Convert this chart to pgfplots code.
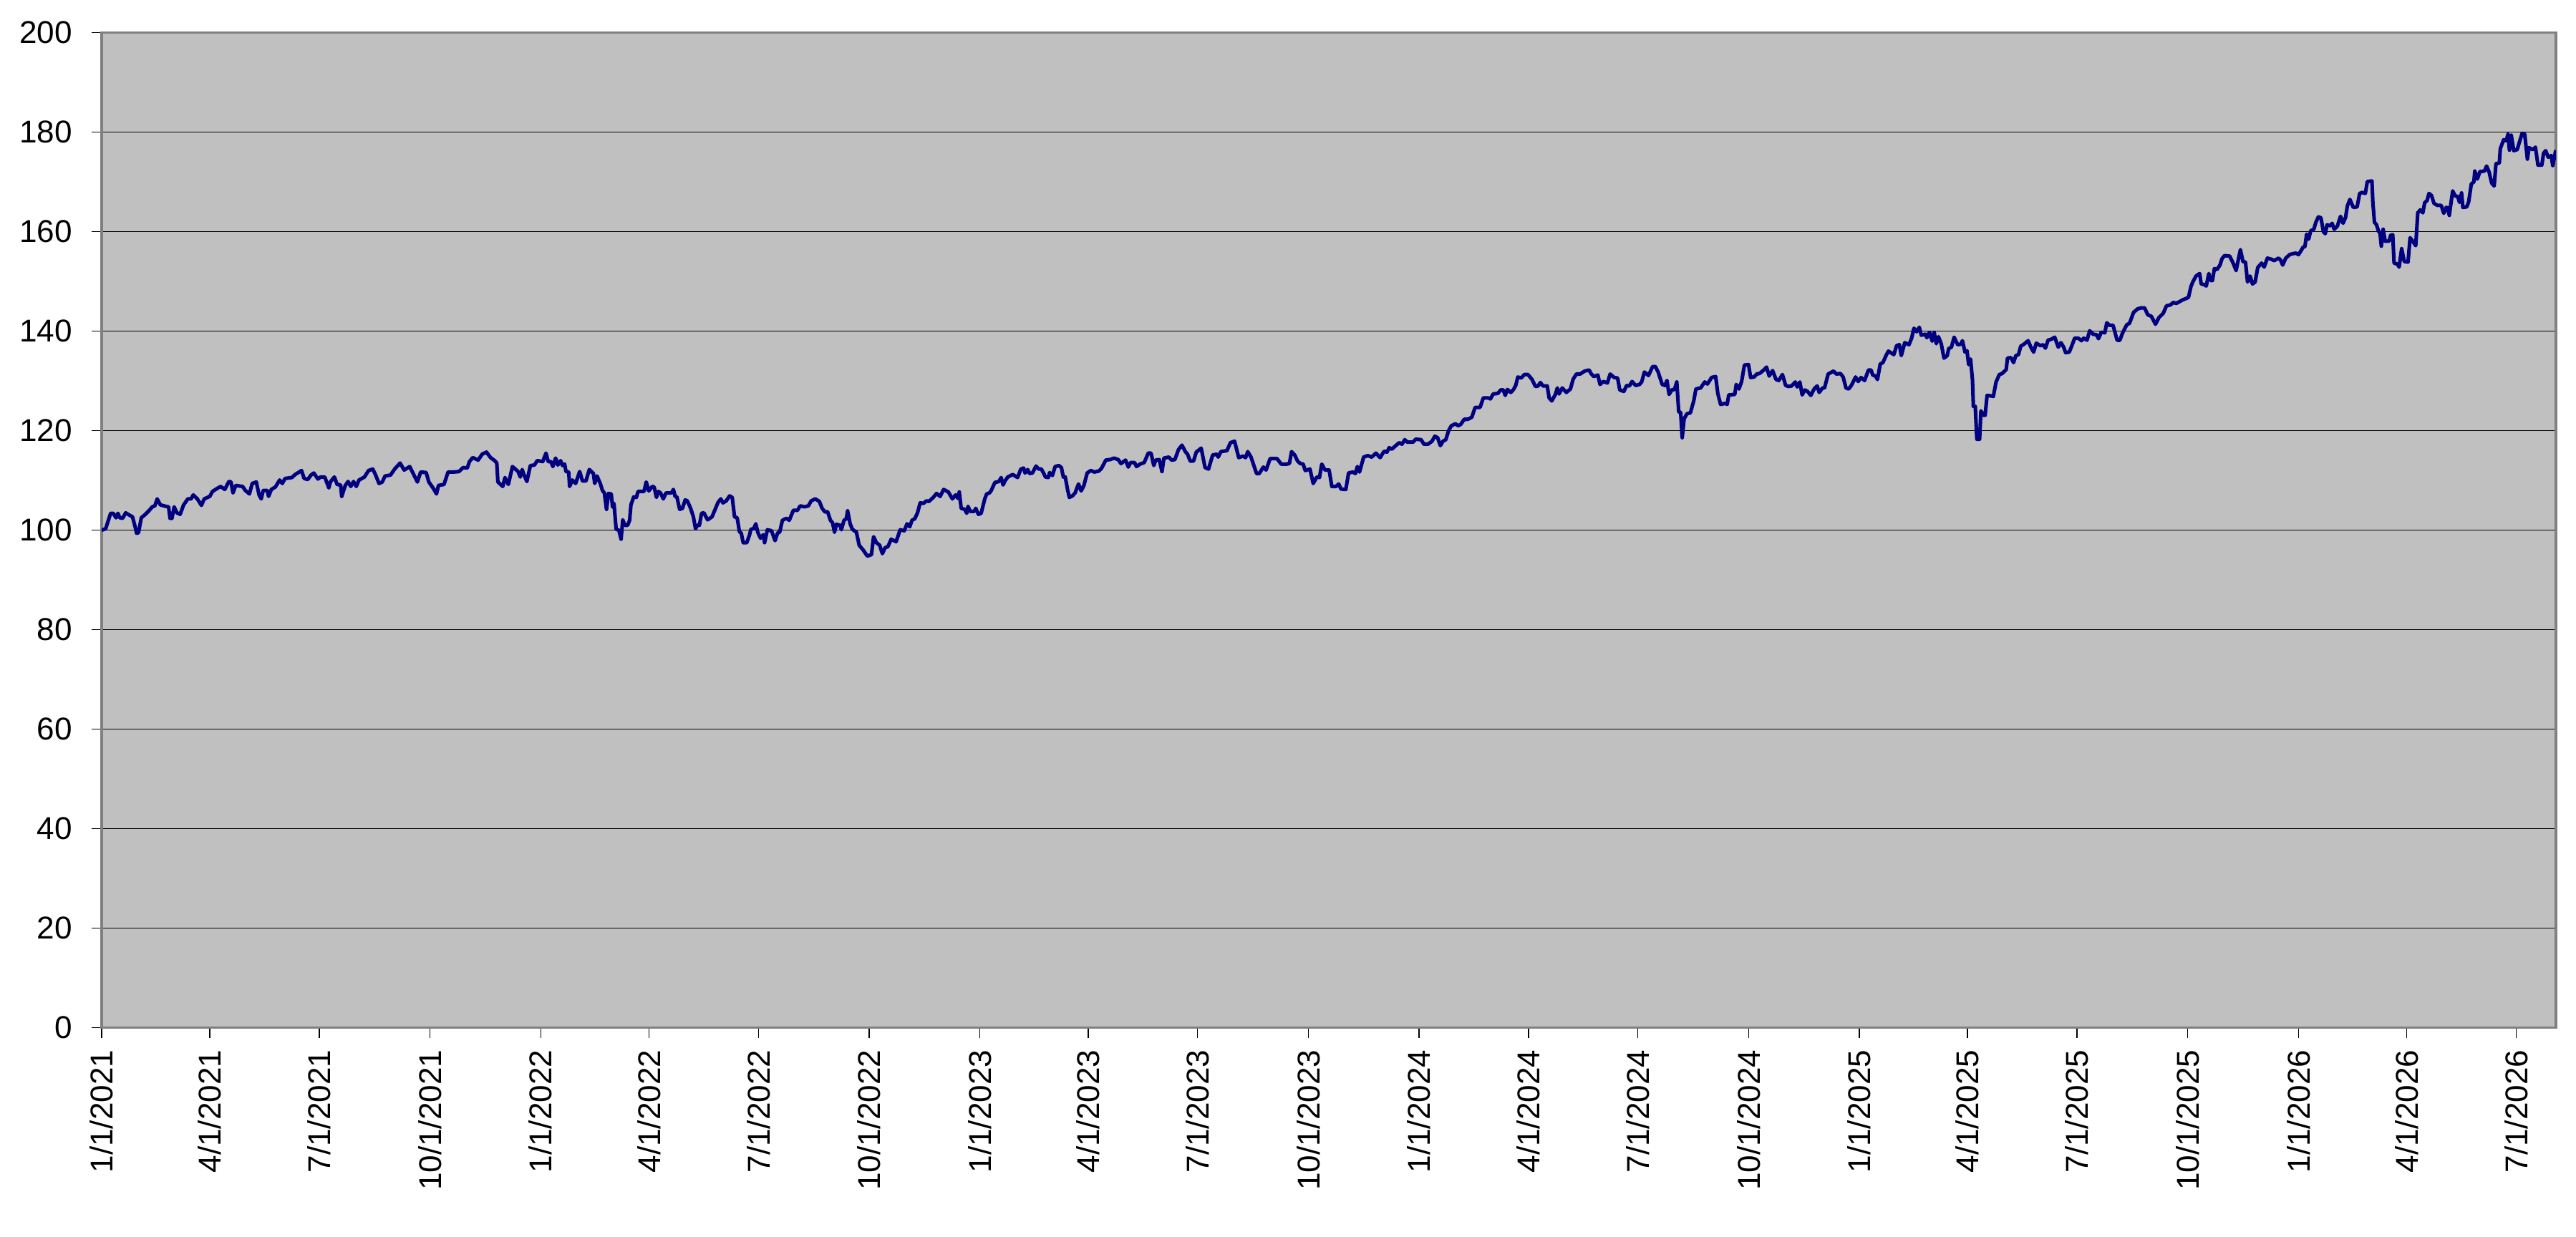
\documentclass[border=0pt]{standalone}
\usepackage{fontspec}
\setmainfont{Liberation Sans}
\usepackage{pgfplots}
\pgfplotsset{compat=1.18}
\definecolor{bg}{HTML}{C0C0C0}
\definecolor{framegray}{HTML}{808080}
\definecolor{series}{HTML}{000080}
\begin{document}
\begin{tikzpicture}
\useasboundingbox (-33.8pt,-69.6pt) rectangle (823.3pt,342.0pt);
\begin{axis}[
  at={(0,0)}, anchor=south west,
  scale only axis, width=816.6pt, height=331.1pt,
  xmin=0, xmax=2040, ymin=0, ymax=200,
  axis background/.style={fill=bg},
  axis line style={draw=framegray, line width=0.8pt},
  ytick={0,20,40,60,80,100,120,140,160,180,200},
  yticklabels={0,20,40,60,80,100,120,140,160,180,200},
  xtick={0,90,181,273,365,455,546,638,730,820,911,1003,1095,1186,1277,1369,1461,1551,1642,1734,1826,1916,2007},
  xticklabels={1/1/2021,4/1/2021,7/1/2021,10/1/2021,1/1/2022,4/1/2022,7/1/2022,10/1/2022,1/1/2023,4/1/2023,7/1/2023,10/1/2023,1/1/2024,4/1/2024,7/1/2024,10/1/2024,1/1/2025,4/1/2025,7/1/2025,10/1/2025,1/1/2026,4/1/2026,7/1/2026},
  tick pos=left, tick align=outside, major tick length=3.4pt,
  tick style={black, line width=0.35pt},
  ymajorgrids, grid style={black, line width=0.35pt},
  xticklabel style={rotate=90, anchor=east, inner xsep=3.8pt, inner ysep=0pt, font=\fontsize{10.5}{12}\selectfont},
  yticklabel style={anchor=east, inner xsep=6.2pt, inner ysep=0pt, font=\fontsize{10.5}{12}\selectfont},
]
\addplot[series, line width=1.2pt, line join=round] table[x=d, y=v] {
d v
0 100.0
3.4 100.3
7.5 103.4
9.7 103.4
12.0 102.5
13.6 103.4
15.2 102.5
17.5 102.4
20.0 103.5
22.7 103.1
25.7 102.7
28.0 100.6
29.1 99.4
30.7 99.5
33.0 102.5
36.4 103.2
39.3 103.9
42.1 104.7
44.3 104.9
46.2 106.3
48.9 105.1
53.4 104.8
55.7 104.7
56.9 102.4
58.5 102.4
60.3 104.7
62.6 103.5
65.3 103.2
68.2 105.1
71.7 106.3
74.4 106.3
76.2 107.1
79.6 106.3
83.0 105.0
85.3 106.3
89.9 106.8
92.2 107.8
96.7 108.5
99.0 108.8
102.4 108.2
105.8 109.8
107.6 109.7
109.2 107.5
111.5 109.0
117.2 108.8
119.5 108.0
122.9 107.3
125.2 109.4
128.6 109.7
130.9 107.1
132.7 106.3
134.3 108.0
137.7 108.0
138.8 106.8
141.1 108.2
144.5 108.7
148.0 110.1
150.2 109.4
152.5 110.4
158.2 110.6
160.9 111.2
166.2 112.0
168.4 110.4
171.4 110.2
174.1 111.1
176.4 111.5
179.8 110.3
182.1 110.7
185.5 110.7
188.9 108.5
190.1 109.7
193.5 110.7
195.8 109.2
198.7 109.1
199.6 106.8
202.6 109.0
204.9 109.8
207.1 108.8
209.4 109.8
211.7 108.8
214.0 110.1
218.5 110.7
221.9 112.0
225.4 112.3
227.6 111.2
230.6 109.4
233.3 109.7
235.6 110.9
240.2 111.1
243.6 112.3
248.1 113.5
251.5 112.1
256.1 112.8
258.4 111.7
262.5 109.7
265.2 111.7
269.8 111.6
272.0 109.7
275.5 108.5
278.4 107.3
280.0 109.0
284.6 109.2
288.0 111.7
292.5 111.7
297.1 111.8
300.5 112.6
303.9 112.5
305.8 113.8
308.5 114.6
313.0 114.1
316.4 115.3
319.9 115.7
323.3 114.6
326.7 114.0
328.5 113.5
329.4 109.7
333.5 108.8
335.3 110.6
338.1 109.2
341.5 112.8
346.2 111.8
348.0 110.7
349.6 112.2
351.2 111.1
353.5 109.8
356.4 113.0
359.8 113.1
362.1 114.0
366.7 113.8
369.4 115.5
371.2 113.8
373.5 113.8
375.1 112.8
377.4 114.5
379.2 113.1
381.5 114.0
383.1 113.0
384.9 113.3
386.0 111.8
388.3 111.7
389.0 108.8
391.3 110.1
394.0 109.4
397.4 111.8
399.7 109.9
402.6 109.9
405.4 112.2
408.8 111.4
409.9 109.4
411.8 110.9
414.5 109.4
416.3 108.0
417.9 107.5
419.7 104.2
421.3 107.4
423.6 107.3
424.7 104.7
425.9 105.4
427.7 100.2
430.0 100.0
431.8 98.2
433.2 102.1
435.0 101.0
437.3 101.0
438.9 102.0
440.0 105.1
442.3 106.7
444.5 106.6
445.9 107.8
450.9 107.8
452.7 109.7
454.8 107.9
457.7 108.8
459.3 108.7
461.2 106.6
462.8 107.8
464.6 107.5
466.9 106.3
469.1 107.5
473.7 107.5
475.3 108.2
476.7 106.8
478.2 106.7
480.5 104.2
482.8 104.4
485.1 106.1
486.9 105.9
489.6 104.4
491.9 102.7
493.7 100.3
495.3 101.0
496.9 101.0
498.7 103.4
500.6 103.5
503.7 102.1
507.4 102.7
512.4 105.6
514.7 106.3
516.5 105.5
519.2 105.9
522.0 106.9
524.2 106.6
526.1 102.7
528.3 102.5
530.2 99.7
531.7 99.4
533.3 97.5
536.3 97.5
538.6 99.1
539.7 100.2
542.0 100.3
543.8 101.3
545.4 99.6
547.7 98.4
550.0 99.1
551.1 97.5
553.4 100.1
556.8 99.9
559.8 97.9
562.0 99.5
563.6 99.6
565.9 102.0
569.3 102.4
571.6 102.0
575.0 104.0
578.4 104.0
580.7 104.9
584.1 104.7
587.5 104.9
589.8 105.9
593.2 106.3
596.6 105.8
598.9 104.4
601.2 103.7
603.5 103.7
605.8 102.0
607.6 101.5
609.2 99.6
610.8 101.2
613.7 101.0
614.9 100.1
617.1 102.0
619.0 102.3
620.1 103.9
622.2 101.3
624.0 100.2
627.4 99.6
629.7 97.0
633.1 96.0
636.5 94.8
639.9 95.1
641.7 98.7
644.0 97.5
646.7 97.0
649.0 95.3
651.3 96.5
653.6 96.7
656.3 98.2
660.4 97.7
663.8 100.1
667.2 99.9
669.5 101.3
671.8 100.7
673.6 102.0
675.9 102.3
678.2 103.5
680.4 105.5
683.2 105.4
685.5 105.9
687.7 105.8
691.3 106.6
694.0 107.4
697.0 106.8
699.9 108.2
703.8 107.7
707.2 106.3
709.9 107.1
711.8 106.4
712.9 107.7
714.5 104.4
717.5 104.2
719.1 103.4
720.2 104.8
722.0 103.8
725.4 103.8
726.6 104.4
728.8 103.2
731.1 103.4
734.1 106.3
735.7 107.3
738.0 107.5
739.5 108.0
742.5 109.6
745.9 109.8
747.7 110.6
749.3 109.1
750.9 109.9
753.2 110.7
757.3 111.2
761.4 110.6
764.1 112.3
766.4 112.5
767.6 111.5
769.8 112.2
771.4 111.4
773.7 111.5
776.7 112.9
778.9 112.3
781.2 112.3
784.6 110.7
786.9 110.6
788.0 111.6
790.3 111.0
792.6 112.8
795.6 113.0
797.8 112.6
799.4 110.7
801.0 110.7
802.9 108.2
804.4 106.6
806.9 106.9
809.2 107.5
812.0 109.3
814.2 107.9
816.5 109.0
819.2 111.5
822.2 112.0
825.2 111.7
829.0 111.9
831.3 112.5
834.7 114.1
838.1 114.2
841.6 114.5
845.0 114.2
847.3 113.4
851.1 114.1
853.4 112.7
855.2 113.6
858.6 113.6
860.2 112.8
863.2 113.3
866.6 113.6
870.0 115.5
872.3 115.5
874.6 113.0
876.2 114.1
879.1 114.2
881.4 111.8
883.0 114.5
887.1 114.7
889.4 114.1
892.1 114.2
895.1 116.2
898.0 117.1
900.8 115.8
902.6 115.3
904.9 113.9
907.6 113.9
909.9 115.7
914.0 116.5
917.2 112.6
920.1 112.3
923.5 115.1
926.9 115.3
928.1 114.7
930.4 115.8
935.4 116.0
938.3 117.6
941.7 117.9
945.2 114.6
948.6 114.9
950.9 114.6
952.7 115.8
955.4 114.7
960.0 111.4
962.2 111.4
965.7 112.7
967.9 112.1
971.3 114.4
977.0 114.4
980.5 113.3
985.0 113.3
987.3 113.4
989.1 115.8
991.8 115.1
994.1 113.9
996.4 113.4
998.7 113.3
1000.5 112.0
1004.4 112.3
1007.1 109.4
1010.1 110.7
1012.3 110.6
1014.2 113.3
1016.9 112.1
1020.3 112.1
1022.6 108.8
1026.0 108.8
1028.3 109.3
1030.1 108.3
1032.8 108.2
1034.2 108.2
1036.5 111.5
1039.9 111.7
1042.2 111.4
1043.8 112.8
1045.6 111.7
1049.0 114.7
1052.4 115.0
1055.8 114.7
1059.2 115.5
1062.7 114.6
1066.1 115.9
1068.4 115.7
1070.2 116.6
1072.5 116.3
1075.2 116.9
1078.6 117.6
1080.9 117.3
1083.2 118.2
1085.4 117.7
1090.0 117.7
1092.3 118.3
1096.8 118.2
1099.1 117.3
1102.5 117.3
1105.9 117.9
1108.2 118.9
1110.5 118.6
1112.8 117.0
1115.0 117.9
1117.3 118.2
1119.6 120.0
1121.9 121.0
1125.3 121.4
1127.6 121.0
1129.8 121.3
1132.6 122.3
1135.5 122.3
1138.9 122.7
1141.7 124.7
1145.8 124.7
1148.5 126.6
1152.6 126.6
1154.4 126.4
1156.7 127.4
1160.6 127.5
1162.9 128.2
1165.1 128.2
1166.7 127.1
1168.5 128.3
1171.3 127.7
1173.6 128.3
1175.4 129.1
1177.2 130.8
1179.9 130.6
1182.7 131.3
1185.6 131.3
1189.0 130.3
1191.8 128.9
1194.0 129.0
1195.9 129.7
1198.1 129.0
1201.6 129.0
1203.2 126.6
1205.4 126.0
1208.4 127.3
1210.0 128.6
1211.4 127.4
1214.1 128.6
1217.5 127.7
1220.9 128.4
1223.2 130.4
1225.9 131.4
1228.9 131.4
1232.8 132.0
1236.4 132.2
1238.0 131.5
1240.3 130.9
1243.7 131.2
1245.5 129.3
1248.2 129.9
1251.6 129.6
1253.9 131.4
1257.3 130.7
1260.1 130.6
1261.9 128.2
1265.3 127.9
1267.6 129.1
1269.9 129.0
1272.1 129.9
1275.1 129.1
1278.3 129.3
1280.1 129.8
1282.4 131.8
1285.8 131.1
1289.2 132.9
1291.5 132.9
1293.8 131.8
1297.2 129.3
1299.5 129.1
1301.1 130.1
1302.9 127.3
1305.2 128.2
1307.4 128.3
1309.3 129.8
1310.9 123.8
1312.5 123.7
1313.8 118.6
1315.4 122.4
1317.7 123.4
1320.6 123.6
1323.4 126.0
1325.2 128.4
1329.1 128.6
1332.5 129.8
1334.8 129.4
1338.2 130.7
1341.6 130.9
1343.4 127.5
1345.7 125.3
1349.6 125.5
1351.2 125.3
1352.5 127.2
1357.5 127.3
1358.7 129.3
1361.0 128.4
1363.2 129.9
1365.5 133.2
1368.9 133.3
1370.7 130.7
1373.5 130.8
1375.8 131.4
1378.0 131.5
1381.6 132.2
1383.9 132.8
1386.1 131.0
1388.9 132.1
1391.8 130.3
1394.1 130.1
1397.1 131.3
1399.8 129.1
1402.1 128.9
1404.8 129.0
1407.8 129.8
1409.4 128.8
1411.6 129.8
1413.5 127.2
1415.7 128.2
1418.0 127.9
1420.7 127.1
1423.7 128.5
1426.0 129.0
1427.6 127.7
1430.5 128.6
1432.1 128.6
1435.1 131.4
1437.4 131.7
1439.6 132.0
1441.9 131.4
1445.3 131.5
1447.6 130.8
1449.9 128.6
1452.2 128.4
1454.4 129.1
1457.9 130.8
1460.1 129.9
1462.4 130.7
1465.4 130.1
1468.6 132.2
1470.8 132.2
1472.2 131.2
1474.5 131.0
1476.1 130.3
1478.4 133.4
1480.6 133.7
1483.6 135.3
1485.2 136.0
1489.7 135.3
1492.0 137.1
1494.3 137.3
1495.9 135.1
1498.8 137.7
1502.3 137.3
1504.5 138.6
1506.4 140.6
1508.6 139.9
1510.9 140.8
1512.5 139.2
1515.9 139.4
1517.1 138.7
1519.3 139.8
1521.6 138.0
1523.2 139.8
1525.0 137.5
1526.8 138.9
1529.1 137.5
1531.4 134.6
1534.1 135.1
1535.3 136.5
1537.6 136.8
1539.8 138.8
1542.8 137.3
1545.5 137.4
1546.7 138.1
1548.9 135.8
1550.5 136.1
1551.9 133.3
1553.5 134.4
1555.1 130.1
1555.8 124.9
1557.4 124.9
1558.7 118.3
1561.0 118.3
1562.1 124.0
1564.2 123.1
1565.6 123.1
1567.2 127.1
1570.6 127.0
1572.4 126.9
1574.7 129.8
1577.4 131.3
1579.7 131.5
1583.1 132.3
1584.2 134.6
1587.0 134.7
1589.2 133.7
1591.1 135.1
1593.3 135.3
1595.2 137.0
1597.9 137.4
1601.3 138.1
1603.6 136.8
1605.9 135.8
1608.1 137.6
1611.6 137.1
1613.8 137.3
1615.7 136.6
1617.9 138.2
1620.7 138.4
1623.4 138.8
1626.4 136.8
1628.6 137.7
1630.9 136.8
1632.5 135.7
1635.5 135.8
1637.7 137.1
1640.0 138.6
1643.0 138.6
1645.7 138.1
1647.5 138.6
1650.3 138.2
1652.5 140.1
1655.3 139.4
1658.2 139.3
1659.8 138.5
1662.1 139.8
1665.1 139.7
1666.7 141.7
1668.9 141.2
1671.9 141.2
1675.3 138.2
1677.6 138.2
1679.9 139.7
1683.3 141.3
1685.6 141.6
1689.0 143.8
1692.4 144.5
1695.4 144.7
1698.1 144.7
1700.8 143.3
1703.8 143.0
1707.2 141.4
1709.9 142.7
1713.6 143.6
1716.3 145.1
1719.7 145.3
1722.0 145.8
1724.4 145.6
1727.6 146.0
1729.7 146.3
1731.8 146.5
1734.6 146.8
1736.7 149.0
1738.2 149.9
1740.9 151.1
1743.9 151.6
1745.2 149.5
1747.3 149.4
1749.4 149.1
1751.5 151.6
1753.0 150.2
1754.5 150.2
1756.2 152.6
1758.3 152.4
1760.8 153.3
1762.5 154.6
1764.6 155.2
1768.9 155.1
1772.1 153.5
1774.2 152.2
1776.3 154.7
1777.8 156.4
1779.9 154.0
1782.0 153.9
1783.7 149.9
1785.8 151.1
1787.8 149.5
1790.0 149.9
1792.2 152.8
1795.4 153.7
1797.5 152.9
1800.2 154.7
1803.2 154.5
1805.9 154.2
1809.5 154.7
1811.2 154.3
1812.9 153.3
1815.5 154.7
1818.7 155.4
1821.4 155.6
1823.9 155.7
1826.1 155.4
1828.2 156.2
1829.9 156.9
1831.4 157.0
1832.8 159.5
1834.5 158.5
1836.2 160.2
1838.8 160.5
1840.5 161.9
1842.6 163.0
1844.7 162.8
1846.8 160.0
1848.3 159.6
1849.8 161.4
1852.5 161.2
1854.0 161.7
1855.7 160.5
1858.3 161.1
1861.0 163.1
1863.1 161.7
1865.2 162.9
1866.7 165.2
1868.8 166.5
1871.6 164.9
1874.8 165.0
1876.9 167.7
1879.0 167.9
1881.6 167.7
1883.3 170.1
1887.1 170.2
1887.9 165.8
1889.2 161.9
1890.7 161.5
1892.8 160.0
1893.8 159.8
1894.9 157.1
1896.4 160.5
1898.1 158.1
1901.3 158.1
1902.7 159.3
1904.4 159.4
1905.5 153.7
1908.2 153.5
1909.7 152.9
1911.8 156.6
1914.0 154.0
1917.1 153.9
1918.8 158.8
1921.0 158.1
1923.5 157.2
1925.2 163.8
1927.3 164.4
1929.4 163.8
1930.9 165.8
1933.0 166.3
1934.5 167.7
1936.6 167.3
1938.7 165.7
1941.5 165.3
1944.7 165.3
1946.8 163.7
1948.9 164.9
1950.0 164.8
1951.4 163.3
1954.2 168.2
1956.3 167.2
1958.4 167.1
1959.9 165.9
1961.6 167.8
1962.7 164.9
1965.9 165.0
1967.5 166.0
1969.7 169.6
1971.8 170.0
1972.6 172.2
1974.7 170.6
1976.9 172.1
1980.7 172.2
1982.4 173.2
1984.5 172.0
1986.6 169.8
1988.7 169.2
1990.2 173.7
1993.0 173.8
1993.8 176.7
1996.6 178.5
1998.7 178.3
2000.2 179.6
2001.4 176.4
2002.9 179.4
2005.0 176.3
2007.8 176.5
2010.3 178.5
2012.0 179.8
2014.1 179.6
2016.3 174.6
2017.7 176.9
2020.9 176.5
2023.0 177.0
2025.1 173.4
2028.3 173.4
2029.8 175.8
2031.5 176.3
2033.6 175.0
2036.1 175.3
2037.4 173.3
2039.9 176.4
};
\end{axis}
\end{tikzpicture}
\end{document}
